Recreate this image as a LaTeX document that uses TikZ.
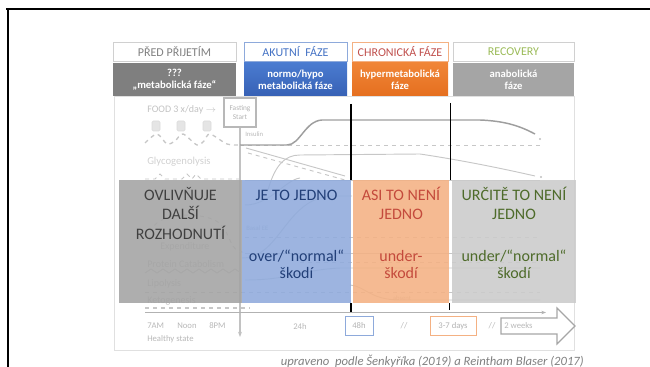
\documentclass[tikz,border=0pt]{standalone}
\usepackage{fontspec}
\setmainfont{Carlito}
\usetikzlibrary{arrows.meta}
\definecolor{hgray}{HTML}{D0D0D0}
\definecolor{hblue}{HTML}{8EAADB}
\definecolor{horange}{HTML}{F4B183}
\definecolor{tblue}{HTML}{4472C4}
\definecolor{tred}{HTML}{C0504D}
\definecolor{tgreen}{HTML}{9BBB59}
\definecolor{pgray}{HTML}{7F7F7F}
\definecolor{pgray2}{HTML}{A5A5A5}
\definecolor{pblueA}{HTML}{4A7BD0}
\definecolor{pblueB}{HTML}{3761B5}
\definecolor{porA}{HTML}{F08537}
\definecolor{porB}{HTML}{E56F1F}
\definecolor{ogray}{HTML}{A3A3A3}
\definecolor{oblue}{HTML}{8FAADC}
\definecolor{oorange}{HTML}{F4B183}
\definecolor{ogray2}{HTML}{CBCBCB}
\definecolor{bgtext}{HTML}{404040}
\definecolor{bbtext}{HTML}{223F78}
\definecolor{brtext}{HTML}{C44A3C}
\definecolor{bgreen}{HTML}{4E6B2A}
\begin{document}
\begin{tikzpicture}[x=0.75pt,y=-0.75pt,
  hdr/.style={draw, line width=0.6pt, minimum height=14.25pt, inner sep=0pt, font=\fontsize{9}{11}\selectfont},
  phase/.style={minimum height=24.75pt, inner sep=0pt, text=white, align=center, font=\bfseries\fontsize{8}{9.2}\selectfont},
  over/.style={minimum height=92.25pt, inner sep=0pt, fill opacity=0.88},
  big/.style={anchor=base, inner sep=0pt, font=\fontsize{12}{14}\selectfont},
  faint/.style={draw=black!22, line width=0.7pt},
  dark/.style={draw=black!38, line width=1.1pt},
  ctext/.style={text=black!24, inner sep=0pt, anchor=west, font=\fontsize{7.5}{9}\selectfont},
  stext/.style={text=black!28, inner sep=0pt, font=\fontsize{6.5}{8}\selectfont},
  tbox/.style={draw, line width=0.6pt, minimum height=14pt, inner sep=1pt, font=\fontsize{6.5}{8}\selectfont, text=black!30},
  slideline/.style={line width=1.5pt, draw=black},
  divider/.style={draw=black, line width=1.4pt}
]
\useasboundingbox (0,0) rectangle (650,367);
% slide frame
\draw[slideline] (6,9.5) -- (650,9.5);
\draw[slideline] (7.5,9.5) -- (7.5,367);

% ---------- faded chart ----------
\draw[draw=black!12, line width=0.6pt] (114,96) rectangle (574,350);
\node[ctext] (food) at (147,110) {FOOD 3 x/day $\rightarrow$};
\foreach \i/\xx in {1/156,2/181,3/207}
  \node[fill=black!10, draw=black!14, rounded corners=1pt, minimum width=6pt, minimum height=7.5pt, inner sep=0pt] (sq\i) at (\xx,126) {};
\node[draw=black!28, line width=1pt, inner sep=1pt, align=center, minimum width=24pt, minimum height=21.75pt, text=black!30, font=\fontsize{5.5}{6.5}\selectfont] (fast) at (240,112.5) {Fasting\\Start};
\coordinate (vend) at (240,337);
\draw[draw=black!24, line width=0.9pt, -{Stealth[length=4pt]}] (fast.south) -- (vend);
\node[stext, anchor=west, font=\fontsize{5}{6}\selectfont] (ins) at (245,134) {Insulin};
\draw[faint, dashed, line width=1pt] plot[smooth] coordinates {(145,143) (157,134) (167,144) (175,141) (183,134) (197,145) (204,141) (210,134) (227,144) (240,145)};
\draw[faint, dashed] (240,145) -- (540,145);
\draw[dark] (240,145) -- (287,145) .. controls (300,145) and (305,121) .. (322,120) -- (480,120) .. controls (505,121) and (520,126) .. (535,134);
\fill[black!25] (540,139) circle (1.2);
\draw[faint] (246,148) -- (345,176);
\draw[faint, dashed] (248,153) -- (345,180);
\draw[faint] (268,190) .. controls (275,165) and (285,155) .. (300,155) -- (420,154) .. controls (460,160) and (500,168) .. (535,176);
\fill[black!25] (541,177) circle (1.2);
\draw[faint, line width=0.5pt] (245,180) -- (540,180);
\node[ctext, font=\fontsize{8}{9}\selectfont, text=black!18] (glyc) at (147,162) {Glycogenolysis};
\draw[faint, dashed] (145,179) -- (155,179) -- (160,174) -- (165,179) -- (182,179) -- (187,174) -- (192,179) -- (196,174) -- (201,179) -- (240,179);

% within overlay region
\node[stext, anchor=west, font=\fontsize{5}{6}\selectfont] (basal) at (246,228) {Basal EE};
\draw[faint, dashed] (245,237) -- (540,237);
\node[ctext] (expend) at (160,247) {Expenditure};
\draw[faint, dashed] (150,240) .. controls (145,212) and (200,210) .. (218,222) .. controls (232,232) and (228,254) .. (246,252);
\draw[faint] (245,205) .. controls (270,205) and (285,180) .. (300,178);
\draw[faint] (242,258) .. controls (280,258) and (285,200) .. (330,196) -- (352,196);
\draw[faint] (245,253) -- (540,253);
\draw[faint, dashed] (300,262) -- (540,262);
\draw[faint] (245,280) .. controls (290,280) and (300,270) .. (340,268) -- (540,268);
\node[ctext] (prot) at (147,264) {Protein Catabolism};
\draw[faint] (145,273) -- (151,269) -- (157,273) -- (163,269) -- (169,273) -- (175,269) -- (181,273) -- (187,269) -- (193,273) -- (199,269) -- (205,273) -- (211,269) -- (217,273) -- (223,269) -- (229,273) -- (235,269) -- (241,273);
\node[ctext] (lipo) at (147,284) {Lipolysis};
\draw[faint, dashed] (145,292) -- (540,292);
\draw[faint] (350,285) .. controls (365,286) and (370,300) .. (400,300) -- (540,300);
\node[ctext] (keto) at (147,301) {Ketogenesis};
\node[stext, font=\fontsize{5}{6}\selectfont] (absent) at (402,298) {absent};
\draw[faint, dashed, line width=1pt] (145,308) -- (250,308);
\coordinate (tl0) at (145,312.5);
\coordinate (tl1) at (546,312.5);
\draw[draw=black!30, line width=0.6pt, -{Stealth[length=3.5pt]}] (tl0) -- (tl1);

% time axis labels
\node[stext, anchor=west] (t7) at (147,326) {7AM};
\node[stext, anchor=west] (tnoon) at (177,326) {Noon};
\node[stext, anchor=west] (t8) at (209,326) {8PM};
\node[stext, anchor=west] (thealthy) at (147,339) {Healthy state};
\node[stext] (t24) at (300,326) {24h};
\node[tbox, draw=hblue, minimum width=21pt] (t48) at (359,326) {48h};
\node[stext] (sl1) at (404,326) {//};
\node[tbox, draw=horange, minimum width=34.5pt] (t37) at (453,326) {3-7 days};
\node[stext] (sl2) at (492,326) {//};
\draw[draw=black!35, line width=0.9pt] (501,318) -- (557,318) -- (557,308) -- (575,326) -- (557,344) -- (557,334) -- (501,334) -- cycle;
\node[stext, anchor=west] (t2w) at (504,326) {2 weeks};

% ---------- header ----------
\node[hdr, draw=hgray, text=black!50, minimum width=92.25pt] (h1) at (174.5,51.5) {PŘED PŘIJETÍM};
\node[hdr, draw=hblue, text=tblue, minimum width=77.25pt] (h2) at (295.5,51.5) {AKUTNÍ\ \ FÁZE};
\node[hdr, draw=horange, text=tred, minimum width=72pt] (h3) at (400,51.5) {CHRONICKÁ FÁZE};
\node[hdr, draw=hgray, text=tgreen, minimum width=90.75pt] (h4) at (513.5,51.5) {RECOVERY};

\node[phase, fill=pgray, minimum width=92.25pt] (p1) at (174.5,79.5) {???\\„metabolická fáze“};
\node[phase, top color=pblueA, bottom color=pblueB, minimum width=77.25pt] (p2) at (295.5,79.5) {normo/hypo\\metabolická fáze};
\node[phase, top color=porA, bottom color=porB, minimum width=72pt] (p3) at (400,79.5) {hypermetabolická\\fáze};
\node[phase, fill=pgray2, minimum width=90.75pt] (p4) at (513.5,79.5) {anabolická\\fáze};

% ---------- overlays ----------
\node[over, fill=ogray, minimum width=92.25pt] (o1) at (180.5,241.5) {};
\node[over, fill=oblue, minimum width=81.75pt] (o2) at (296.5,241.5) {};
\node[over, fill=oorange, minimum width=72pt] (o3) at (401,241.5) {};
\node[over, fill=ogray2, minimum width=93pt] (o4) at (514,241.5) {};

\node[big, text=bgtext] (a1) at (180.5,200) {OVLIVŇUJE};
\node[big, text=bgtext] (a2) at (180.5,219.5) {DALŠÍ};
\node[big, text=bgtext] (a3) at (180.5,239) {ROZHODNUTÍ};

\node[big, text=bbtext] (b1) at (296.5,200) {JE TO JEDNO};
\node[big, text=bbtext] (b2) at (296.5,262) {over/“normal“};
\node[big, text=bbtext] (b3) at (296.5,278.5) {škodí};

\node[big, text=brtext] (c1) at (401,200) {ASI TO NENÍ};
\node[big, text=brtext] (c2) at (401,219.5) {JEDNO};
\node[big, text=brtext] (c3) at (401,262) {under-};
\node[big, text=brtext] (c4) at (401,278.5) {škodí};

\node[big, text=bgreen] (d1) at (514,200) {URČITĚ TO NENÍ};
\node[big, text=bgreen] (d2) at (514,219.5) {JEDNO};
\node[big, text=bgreen] (d3) at (514,262) {under/“normal“};
\node[big, text=bgreen] (d4) at (514,278.5) {škodí};

% ---------- dividers ----------
\coordinate (v1a) at (351,104);
\coordinate (v1b) at (351,180);
\coordinate (v1c) at (351,303);
\coordinate (v1d) at (351,312);
\coordinate (v2a) at (450,103);
\coordinate (v2b) at (450,180);
\coordinate (v2c) at (449,303);
\coordinate (v2d) at (449,310);
\draw[divider] (v1a) -- (v1b);
\draw[divider] (v1c) -- (v1d);
\draw[divider, line width=0.7pt] (v2a) -- (v2b);
\draw[divider, line width=0.7pt] (v2c) -- (v2d);

% ---------- caption ----------
\node[anchor=base east, inner sep=0pt, text=black!50, font=\itshape\fontsize{9.5}{11}\selectfont] (cap) at (584,365) {upraveno\ \ podle Šenkyříka (2019) a Reintham Blaser (2017)};
\end{tikzpicture}
\end{document}
